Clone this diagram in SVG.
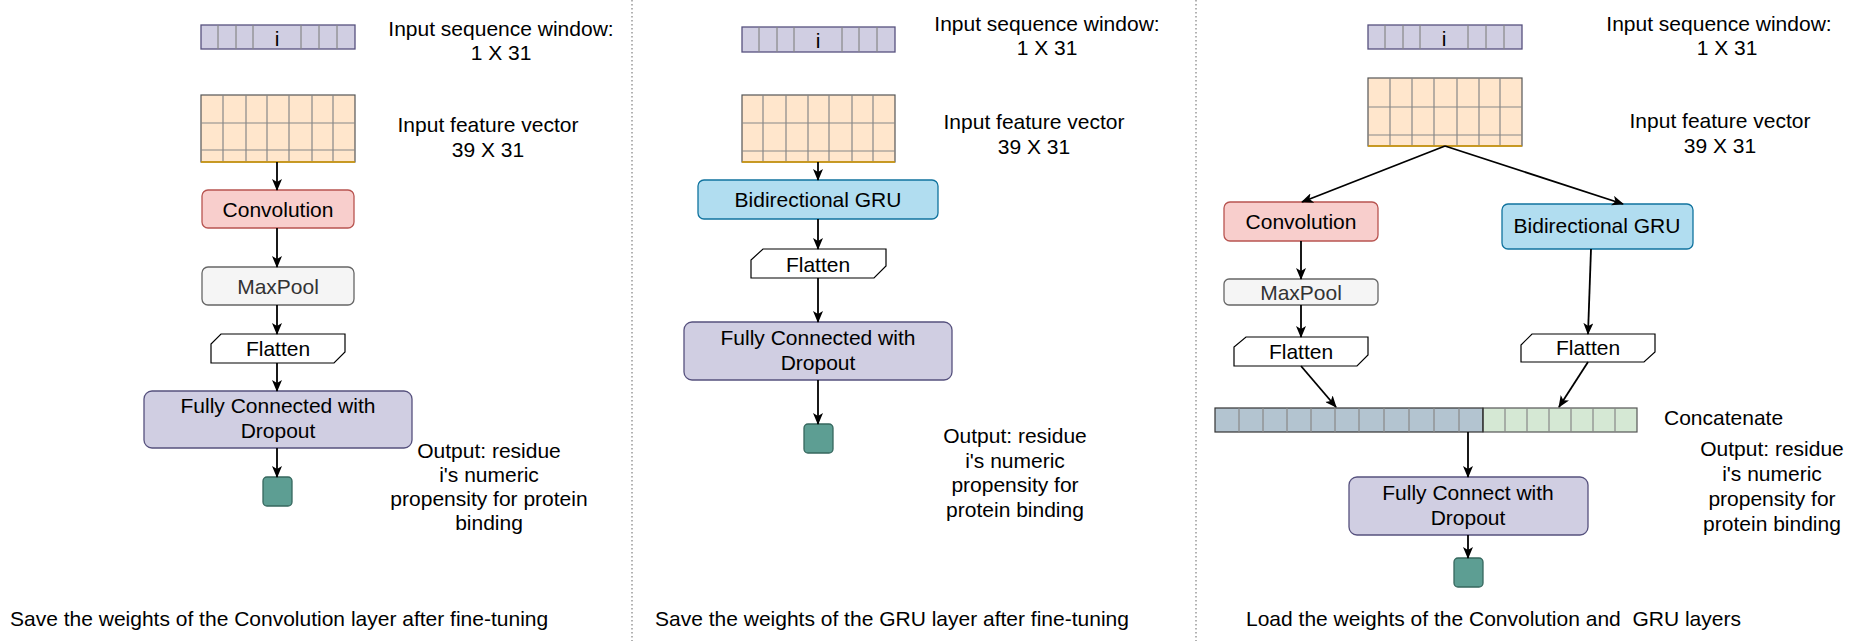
<svg xmlns="http://www.w3.org/2000/svg" width="1854" height="641" viewBox="0 0 1854 641">
<defs>
<marker id="arr" viewBox="0 0 12 10" markerWidth="12" markerHeight="10" refX="11" refY="5" orient="auto" markerUnits="userSpaceOnUse">
<path d="M0,0 L12,5 L0,10 L3,5 Z" fill="#000"/>
</marker>
</defs>
<style>
text{font-family:"Liberation Sans",Arial,Helvetica,sans-serif;font-size:21px;fill:#000}
.c{text-anchor:middle}
.seq{fill:#d0cee2;stroke:#56517e;stroke-width:1.3}
.feat{fill:#ffe6cc;stroke:#555;stroke-width:1.2}
.featb{stroke:#d79b00;stroke-width:1.5}
.grid{stroke:#888;stroke-width:1.2;fill:none}
.conv{fill:#f8cecc;stroke:#b85450;stroke-width:1.3}
.pool{fill:#f5f5f5;stroke:#666;stroke-width:1.3}
.gru{fill:#b1ddf0;stroke:#10739e;stroke-width:1.3}
.flat{fill:#fff;stroke:#000;stroke-width:1.2}
.fc{fill:#d0cee2;stroke:#56517e;stroke-width:1.3}
.out{fill:#5d9e93;stroke:#36675e;stroke-width:1.3}
.cb{fill:#b3c4d0;stroke:#333;stroke-width:1.2}
.cg{fill:#d5e8d4;stroke:#555;stroke-width:1.2}
.conn line{stroke:#000;stroke-width:1.8;marker-end:url(#arr)}
.div{stroke:#999;stroke-width:1.5;stroke-dasharray:1.5 2.5}
</style>
<rect width="1854" height="641" fill="#fff"/>
<g id="dividers">
<line class="div" x1="632" y1="0" x2="632" y2="641"/>
<line class="div" x1="1196" y1="0" x2="1196" y2="641"/>
</g>
<!-- Panel 1 -->
<g id="p1-seq">
<rect class="seq" x="201" y="25" width="154" height="24"/>
<path class="grid" d="M218,25V49M236,25V49M253,25V49M301,25V49M319,25V49M337,25V49"/>
<text class="c" x="277" y="45.5">i</text>
</g>
<g id="p1-feat">
<rect class="feat" x="201" y="95" width="154" height="67"/>
<path class="grid" d="M223,95V162M246,95V162M267,95V162M289,95V162M312,95V162M333,95V162M201,123H355M201,150H355"/>
<line class="featb" x1="201" y1="162" x2="355" y2="162"/>
</g>
<g id="p1-seq-label"><text class="c" x="501" y="36">Input sequence window:</text><text class="c" x="501" y="60">1 X 31</text></g>
<g id="p1-feat-label"><text class="c" x="488" y="132">Input feature vector</text><text class="c" x="488" y="157">39 X 31</text></g>
<g id="p1-conv"><rect class="conv" x="202" y="190" width="152" height="38" rx="6"/><text class="c" x="278" y="216.5">Convolution</text></g>
<g id="p1-pool"><rect class="pool" x="202" y="267" width="152" height="38" rx="6"/><text class="c" x="278" y="293.5" style="fill:#333">MaxPool</text></g>
<g id="p1-flat"><polygon class="flat" points="221,334 345,334 345,352 334,363 211,363 211,344"/><text class="c" x="278" y="356">Flatten</text></g>
<g id="p1-fc"><rect class="fc" x="144" y="391" width="268" height="57" rx="8"/><text class="c" x="278" y="413">Fully Connected with</text><text class="c" x="278" y="438">Dropout</text></g>
<g id="p1-out"><rect class="out" x="263" y="477" width="29" height="29" rx="4"/></g>
<g id="p1-out-label"><text class="c" x="489" y="458">Output: residue</text><text class="c" x="489" y="482">i's numeric</text><text class="c" x="489" y="506">propensity for protein</text><text class="c" x="489" y="530">binding</text></g>
<g id="p1-caption"><text x="10" y="626">Save the weights of the Convolution layer after fine-tuning</text></g>
<!-- Panel 2 -->
<g id="p2-seq">
<rect class="seq" x="742" y="27" width="153" height="25"/>
<path class="grid" d="M759,27V52M777,27V52M794,27V52M842,27V52M859,27V52M877,27V52"/>
<text class="c" x="818" y="48">i</text>
</g>
<g id="p2-feat">
<rect class="feat" x="742" y="95" width="153" height="67"/>
<path class="grid" d="M763,95V162M786,95V162M808,95V162M829,95V162M852,95V162M873,95V162M742,123H895M742,151H895"/>
<line class="featb" x1="742" y1="162" x2="895" y2="162"/>
</g>
<g id="p2-seq-label"><text class="c" x="1047" y="31">Input sequence window:</text><text class="c" x="1047" y="55">1 X 31</text></g>
<g id="p2-feat-label"><text class="c" x="1034" y="129">Input feature vector</text><text class="c" x="1034" y="154">39 X 31</text></g>
<g id="p2-gru"><rect class="gru" x="698" y="180" width="240" height="39" rx="6"/><text class="c" x="818" y="207">Bidirectional GRU</text></g>
<g id="p2-flat"><polygon class="flat" points="763,249 886,249 886,266 874,278 751,278 751,260"/><text class="c" x="818" y="272">Flatten</text></g>
<g id="p2-fc"><rect class="fc" x="684" y="322" width="268" height="58" rx="8"/><text class="c" x="818" y="345">Fully Connected with</text><text class="c" x="818" y="370">Dropout</text></g>
<g id="p2-out"><rect class="out" x="804" y="424" width="29" height="29" rx="4"/></g>
<g id="p2-out-label"><text class="c" x="1015" y="443">Output: residue</text><text class="c" x="1015" y="467.5">i's numeric</text><text class="c" x="1015" y="492">propensity for</text><text class="c" x="1015" y="516.5">protein binding</text></g>
<g id="p2-caption"><text x="655" y="626">Save the weights of the GRU layer after fine-tuning</text></g>
<!-- Panel 3 -->
<g id="p3-seq">
<rect class="seq" x="1368" y="25" width="154" height="24"/>
<path class="grid" d="M1385,25V49M1403,25V49M1420,25V49M1468,25V49M1486,25V49M1504,25V49"/>
<text class="c" x="1444" y="45.5">i</text>
</g>
<g id="p3-feat">
<rect class="feat" x="1368" y="78" width="154" height="68"/>
<path class="grid" d="M1390,78V146M1412,78V146M1434,78V146M1457,78V146M1479,78V146M1500,78V146M1368,107H1522M1368,135H1522"/>
<line class="featb" x1="1368" y1="146" x2="1522" y2="146"/>
</g>
<g id="p3-seq-label"><text class="c" x="1719" y="31">Input sequence window:</text><text class="c" x="1727" y="55">1 X 31</text></g>
<g id="p3-feat-label"><text class="c" x="1720" y="128">Input feature vector</text><text class="c" x="1720" y="153">39 X 31</text></g>
<g id="p3-conv"><rect class="conv" x="1224" y="202" width="154" height="39" rx="6"/><text class="c" x="1301" y="229">Convolution</text></g>
<g id="p3-gru"><rect class="gru" x="1502" y="204" width="191" height="45" rx="6"/><text class="c" x="1597" y="233">Bidirectional GRU</text></g>
<g id="p3-pool"><rect class="pool" x="1224" y="279" width="154" height="26" rx="5"/><text class="c" x="1301" y="299.5" style="fill:#333">MaxPool</text></g>
<g id="p3-flat-a"><polygon class="flat" points="1246,337 1368,337 1368,355 1357,366 1234,366 1234,347"/><text class="c" x="1301" y="359">Flatten</text></g>
<g id="p3-flat-b"><polygon class="flat" points="1532,334 1655,334 1655,352 1644,362 1521,362 1521,345"/><text class="c" x="1588" y="355">Flatten</text></g>
<g id="p3-concat">
<rect class="cb" x="1215" y="408" width="268" height="24"/>
<path class="grid" d="M1239,408V432M1263,408V432M1287,408V432M1311,408V432M1335,408V432M1359,408V432M1384,408V432M1409,408V432M1434,408V432M1459,408V432"/>
<rect class="cg" x="1483" y="408" width="154" height="24"/>
<path class="grid" d="M1505,408V432M1527,408V432M1549,408V432M1571,408V432M1593,408V432M1615,408V432"/>
<line x1="1483" y1="408" x2="1483" y2="432" stroke="#333" stroke-width="1.2"/>
</g>
<g id="p3-concat-label"><text x="1664" y="425">Concatenate</text></g>
<g id="p3-fc"><rect class="fc" x="1349" y="477" width="239" height="58" rx="8"/><text class="c" x="1468" y="499.5">Fully Connect with</text><text class="c" x="1468" y="524.5">Dropout</text></g>
<g id="p3-out"><rect class="out" x="1454" y="558" width="29" height="29" rx="4"/></g>
<g id="p3-out-label"><text class="c" x="1772" y="456">Output: residue</text><text class="c" x="1772" y="481">i's numeric</text><text class="c" x="1772" y="506">propensity for</text><text class="c" x="1772" y="531">protein binding</text></g>
<g id="p3-caption"><text x="1246" y="626" xml:space="preserve">Load the weights of the Convolution and  GRU layers</text></g>
<!-- Connectors -->
<g id="connectors" class="conn">
<line x1="277" y1="162" x2="277" y2="190"/>
<line x1="277" y1="228" x2="277" y2="267"/>
<line x1="277" y1="305" x2="277" y2="334"/>
<line x1="277" y1="363" x2="277" y2="391"/>
<line x1="277" y1="448" x2="277" y2="477"/>
<line x1="818" y1="162" x2="818" y2="180"/>
<line x1="818" y1="219" x2="818" y2="249"/>
<line x1="818" y1="278" x2="818" y2="322"/>
<line x1="818" y1="380" x2="818" y2="424"/>
<line x1="1445" y1="146" x2="1302" y2="202"/>
<line x1="1445" y1="146" x2="1623" y2="204"/>
<line x1="1301" y1="241" x2="1301" y2="279"/>
<line x1="1301" y1="305" x2="1301" y2="337"/>
<line x1="1301" y1="366" x2="1336" y2="407"/>
<line x1="1591" y1="249" x2="1588" y2="334"/>
<line x1="1588" y1="362" x2="1559" y2="407"/>
<line x1="1468" y1="432" x2="1468" y2="477"/>
<line x1="1468" y1="535" x2="1468" y2="558"/>
</g>
</svg>
